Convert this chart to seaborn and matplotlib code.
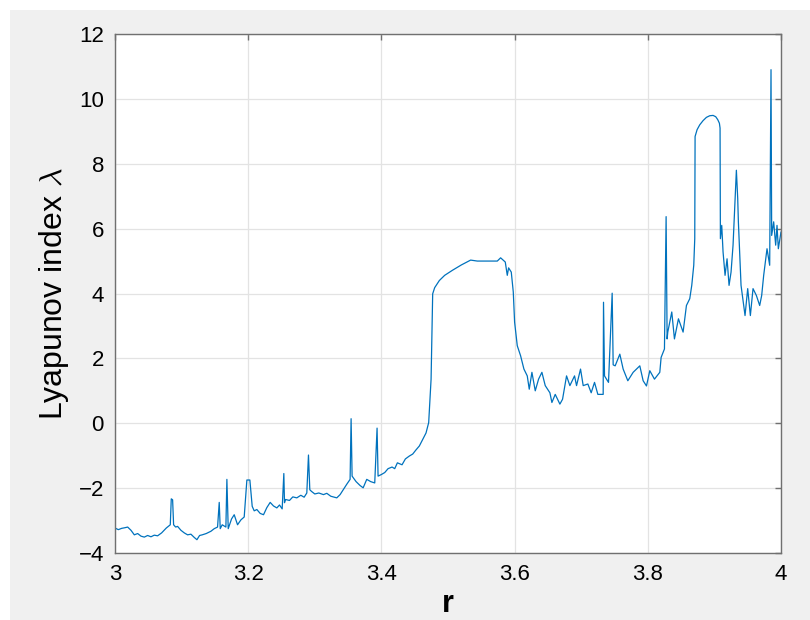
import numpy as np
import pandas as pd
import matplotlib
matplotlib.use("Agg")
import matplotlib.pyplot as plt
from matplotlib.patches import Rectangle
import seaborn as sns

# valores (r, expoente de Lyapunov), em 3 trechos
r_low = [
    3.000, 3.005, 3.010, 3.015, 3.019, 3.024, 3.029, 3.034, 3.039, 3.044,
    3.049, 3.054, 3.059, 3.064, 3.070, 3.077, 3.083, 3.0845, 3.0865, 3.088,
    3.091, 3.094, 3.099, 3.104, 3.109, 3.114, 3.119, 3.123, 3.127, 3.131,
    3.137, 3.144, 3.149, 3.154, 3.1565, 3.158, 3.161, 3.1665, 3.168, 3.170,
    3.175, 3.179, 3.184, 3.189, 3.194, 3.198, 3.2025, 3.206, 3.209, 3.213,
    3.218, 3.223, 3.228, 3.233, 3.238, 3.243, 3.247, 3.251, 3.2535, 3.2545,
    3.256, 3.262, 3.267, 3.273, 3.279, 3.284, 3.288, 3.2905, 3.2925, 3.295,
    3.300, 3.306, 3.313, 3.318, 3.324, 3.333, 3.338, 3.343, 3.348, 3.353,
    3.3545, 3.356, 3.362, 3.368, 3.3726, 3.378, 3.384, 3.390, 3.3935, 3.395,
    3.400, 3.405, 3.410, 3.416, 3.420, 3.424, 3.431, 3.436, 3.442, 3.447,
    3.452, 3.457, 3.462, 3.467, 3.471,
]
lyap_low = [
    -3.23, -3.28, -3.24, -3.22, -3.20, -3.30, -3.44, -3.40, -3.48, -3.51,
    -3.46, -3.50, -3.45, -3.47, -3.38, -3.23, -3.13, -2.33, -2.36, -3.13,
    -3.20, -3.18, -3.30, -3.38, -3.44, -3.42, -3.52, -3.59, -3.46, -3.44,
    -3.40, -3.33, -3.25, -3.20, -2.44, -3.25, -3.13, -3.20, -1.73, -3.25,
    -2.95, -2.82, -3.13, -2.98, -2.89, -1.75, -1.75, -2.56, -2.70, -2.66,
    -2.78, -2.82, -2.60, -2.44, -2.55, -2.61, -2.52, -2.64, -1.55, -2.45,
    -2.35, -2.38, -2.27, -2.30, -2.22, -2.28, -2.15, -0.98, -2.05, -2.10,
    -2.18, -2.15, -2.20, -2.16, -2.25, -2.30, -2.20, -2.04, -1.88, -1.73,
    0.14, -1.63, -1.80, -1.92, -1.99, -1.73, -1.80, -1.84, -0.15, -1.63,
    -1.58, -1.52, -1.40, -1.35, -1.40, -1.22, -1.28, -1.10, -1.01, -0.95,
    -0.82, -0.70, -0.50, -0.30, 0.02,
]

r_mid = [
    3.4746, 3.477, 3.480, 3.487, 3.495, 3.507, 3.520, 3.534, 3.544, 3.574,
    3.579, 3.586, 3.589, 3.591, 3.595, 3.598, 3.600, 3.604, 3.609, 3.614,
    3.619, 3.622, 3.626, 3.631, 3.636, 3.641, 3.646, 3.653, 3.656, 3.661,
    3.668, 3.672, 3.678, 3.683, 3.690, 3.693, 3.699, 3.703, 3.710, 3.715,
    3.720, 3.725, 3.733, 3.7335, 3.735, 3.741, 3.7465, 3.748, 3.751,
]
lyap_mid = [
    1.36, 3.99, 4.18, 4.40, 4.56, 4.72, 4.88, 5.03, 5.00, 5.00,
    5.10, 4.97, 4.56, 4.79, 4.66, 4.05, 3.12, 2.39, 2.08, 1.67,
    1.46, 1.05, 1.57, 1.00, 1.36, 1.57, 1.16, 0.94, 0.64, 0.89,
    0.59, 0.74, 1.46, 1.16, 1.46, 1.16, 1.67, 1.16, 1.21, 0.94,
    1.26, 0.89, 0.89, 3.73, 1.46, 1.26, 4.01, 1.80, 1.77,
]

r_high = [
    3.758, 3.763, 3.770, 3.778, 3.788, 3.793, 3.798, 3.803, 3.810, 3.818,
    3.820, 3.825, 3.8275, 3.829, 3.830, 3.836, 3.840, 3.846, 3.853, 3.858,
    3.863, 3.866, 3.869, 3.8705, 3.871, 3.874, 3.878, 3.883, 3.888, 3.893,
    3.898, 3.902, 3.905, 3.9075, 3.9085, 3.909, 3.911, 3.913, 3.916, 3.919,
    3.922, 3.925, 3.928, 3.930, 3.933, 3.935, 3.936, 3.940, 3.946, 3.950,
    3.954, 3.958, 3.963, 3.968, 3.971, 3.974, 3.979, 3.983, 3.9845, 3.985,
    3.986, 3.989, 3.992, 3.994, 3.996, 4.000,
]
lyap_high = [
    2.13, 1.67, 1.31, 1.57, 1.77, 1.31, 1.15, 1.62, 1.36, 1.57,
    2.03, 2.29, 6.37, 2.60, 2.81, 3.43, 2.60, 3.22, 2.81, 3.63,
    3.84, 4.25, 4.87, 5.69, 8.84, 9.05, 9.20, 9.33, 9.43, 9.48,
    9.49, 9.45, 9.36, 9.25, 9.10, 5.69, 6.10, 5.28, 4.56, 5.07,
    4.25, 4.66, 5.49, 6.42, 7.80, 6.93, 6.21, 4.25, 3.32, 4.15,
    3.32, 4.15, 3.94, 3.63, 3.94, 4.56, 5.38, 4.87, 9.31, 10.90,
    5.79, 6.21, 5.49, 6.10, 5.38, 5.90,
]

x_ticks = [3, 3.2, 3.4, 3.6, 3.8, 4]
x_labels = ["3", "3.2", "3.4", "3.6", "3.8", "4"]
y_ticks = [-4, -2, 0, 2, 4, 6, 8, 10, 12]

df = pd.DataFrame({
    "r": r_low + r_mid + r_high,
    "lyap": lyap_low + lyap_mid + lyap_high,
})

sns.set_style("white")
plt.rcParams["font.family"] = ["Liberation Sans", "DejaVu Sans"]
plt.rcParams["mathtext.fontset"] = "cm"

fig = plt.figure(figsize=(8.1, 6.2), dpi=100, facecolor="white")
# fundo cinza estilo MATLAB
fig.add_artist(Rectangle((10 / 810, 0), 1, 1 - 10 / 620, transform=fig.transFigure,
                         facecolor="#f0f0f0", edgecolor="none", zorder=-10))
ax = fig.add_axes([115 / 810, 1 - 553 / 620, 666 / 810, 519 / 620])
ax.set_facecolor("white")

sns.lineplot(data=df, x="r", y="lyap", ax=ax, sort=False, estimator=None,
             color="#0072BD", linewidth=0.9)

ax.set_xlim(3, 4)
ax.set_ylim(-4, 12)
ax.set_xticks(x_ticks)
ax.set_xticklabels(x_labels)
ax.set_yticks(y_ticks)
ax.grid(True, color="#e3e3e3", linewidth=0.9)
ax.set_axisbelow(True)
for s in ax.spines.values():
    s.set_color("#707070")
    s.set_linewidth(1.0)
    s.set_visible(True)
ax.tick_params(direction="in", length=4, width=1.0, color="#707070",
               top=True, right=True, labelsize=16, labelcolor="black")
ax.tick_params(axis="x", pad=8)
ax.tick_params(axis="y", pad=8)

ax.set_xlabel("")
ax.set_ylabel(r"Lyapunov index $\lambda$", fontsize=23, color="black")
ax.yaxis.set_label_coords(-0.066, 0.5)
fig.text(448 / 810, 0.002, "r", ha="center", va="bottom", fontsize=22,
         fontweight="bold", color="black")

fig.savefig("out.png", dpi=100, facecolor=fig.get_facecolor())
